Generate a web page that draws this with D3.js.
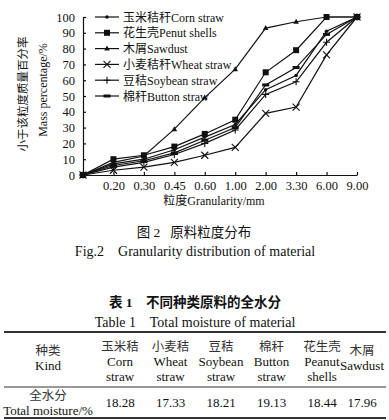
<!DOCTYPE html>
<html>
<head>
<meta charset="utf-8">
<script src="https://cdn.jsdelivr.net/npm/d3@7"></script>
<style>
  body { margin: 0; background: #fff; }
  svg { display: block; }
  text { font-family: "Liberation Serif", "Noto Sans CJK SC", serif; fill: #111; }
</style>
</head>
<body>
<svg width="389" height="420"></svg>
<script>
// 粒度分布 data
const categories = ["0", "0.20", "0.30", "0.45", "0.60", "1.00", "2.00", "3.30", "6.00", "9.00"];
const cornStraw    = [0, 7, 10, 16, 24, 32, 54, 63, 91, 100];
const peanutShells = [0, 10, 12.5, 18, 26, 35, 65, 79, 100, 100];
const sawdust      = [0, 8, 12, 29, 49, 67, 93, 97, 100, 100];
const wheatStraw   = [0, 3, 5, 8, 12.5, 17.5, 39, 43, 76, 100];
const soybeanStraw = [0, 5, 8, 13, 20, 28.5, 51, 59, 84, 100];
const buttonStraw  = [0, 6, 9, 14, 22, 30, 57, 68, 89, 100];
const yTicks = [0, 10, 20, 30, 40, 50, 60, 70, 80, 90, 100];

const seriesNames = ["玉米秸秆Corn straw", "花生壳Penut shells", "木屑Sawdust", "小麦秸秆Wheat straw", "豆秸Soybean straw", "棉秆Button straw"];
const seriesValues = [cornStraw, peanutShells, sawdust, wheatStraw, soybeanStraw, buttonStraw];
const seriesMarks = ["dot", "square", "triangle", "cross", "plus", "dash"];

// 表 1 data
const kindsCn = ["玉米秸", "小麦秸", "豆秸", "棉秆", "花生壳", "木屑"];
const kindsEn = [["Corn", "straw"], ["Wheat", "straw"], ["Soybean", "straw"], ["Button", "straw"], ["Peanut", "shells"], ["Sawdust"]];
const moisture = [18.28, 17.33, 18.21, 19.13, 18.44, 17.96];

const svg = d3.select("svg");

// 坐标轴
const x = d3.scalePoint().domain(categories).range([83, 357]);
const y = d3.scaleLinear().domain([0, 100]).range([175, 17]);

const g = svg.append("g");

// y 轴
const yAxis = g.append("g")
  .attr("transform", "translate(83,0)")
  .call(d3.axisLeft(y).tickValues(yTicks).tickSizeInner(-3).tickSizeOuter(-3).tickPadding(8));
yAxis.selectAll("text").style("font-size", "12.5px");

// x 轴
const xAxis = g.append("g")
  .attr("transform", "translate(0,175)")
  .call(d3.axisBottom(x).tickSizeInner(-3).tickSizeOuter(0).tickPadding(6));
xAxis.selectAll(".tick").filter(d => d === "0").remove();
xAxis.selectAll("text").style("font-size", "12.5px");
g.selectAll(".domain, .tick line").attr("stroke", "#111").attr("stroke-width", 1.2);

// 轴标题
svg.append("text")
  .attr("transform", "translate(27,94) rotate(-90)")
  .attr("text-anchor", "middle")
  .style("font-size", "11.5px")
  .text("小于该粒度质量百分率");
svg.append("text")
  .attr("transform", "translate(47,90) rotate(-90)")
  .attr("text-anchor", "middle")
  .style("font-size", "12px")
  .text("Mass percentage/%");
svg.append("text")
  .attr("x", 214).attr("y", 205)
  .attr("text-anchor", "middle")
  .style("font-size", "12px")
  .text("粒度Granularity/mm");

// 标记
function drawMark(sel, type, cx, cy) {
  if (type === "dot") {
    sel.append("circle").attr("cx", cx).attr("cy", cy).attr("r", 1.8).attr("fill", "#111");
  } else if (type === "square") {
    sel.append("rect").attr("x", cx - 3).attr("y", cy - 3).attr("width", 6).attr("height", 6).attr("fill", "#111");
  } else if (type === "triangle") {
    sel.append("path").attr("d", `M${cx},${cy - 3}L${cx + 2.8},${cy + 2}L${cx - 2.8},${cy + 2}Z`).attr("fill", "#111");
  } else if (type === "cross") {
    sel.append("path").attr("d", `M${cx - 3.5},${cy - 3.5}L${cx + 3.5},${cy + 3.5}M${cx - 3.5},${cy + 3.5}L${cx + 3.5},${cy - 3.5}`)
      .attr("stroke", "#111").attr("stroke-width", 1.1);
  } else if (type === "plus") {
    sel.append("path").attr("d", `M${cx - 3.5},${cy}L${cx + 3.5},${cy}M${cx},${cy - 3.5}L${cx},${cy + 3.5}`)
      .attr("stroke", "#111").attr("stroke-width", 1.1);
  } else if (type === "dash") {
    sel.append("rect").attr("x", cx - 3.5).attr("y", cy - 1.5).attr("width", 7).attr("height", 3).attr("fill", "#111");
  }
}

const line = d3.line().x((d, i) => x(categories[i])).y(d => y(d));

seriesValues.forEach((vals, k) => {
  const sg = svg.append("g");
  sg.append("path")
    .attr("d", line(vals))
    .attr("fill", "none")
    .attr("stroke", "#111")
    .attr("stroke-width", 1.2);
  vals.forEach((v, i) => drawMark(sg, seriesMarks[k], x(categories[i]), y(v)));
});

// 图例
const legendY = d3.scalePoint().domain(seriesNames).range([17, 96]);
seriesNames.forEach((name, k) => {
  const ly = legendY(name);
  const lg = svg.append("g");
  lg.append("line").attr("x1", 95).attr("x2", 119).attr("y1", ly).attr("y2", ly)
    .attr("stroke", "#111").attr("stroke-width", 1.2);
  drawMark(lg, seriesMarks[k], 107, ly);
  lg.append("text").attr("x", 123).attr("y", ly + 4.5)
    .style("font-size", "12px").text(name);
});

// 图题
svg.append("text").attr("x", 194).attr("y", 237)
  .attr("text-anchor", "middle").style("font-size", "13.5px")
  .attr("xml:space", "preserve")
  .text("图 2   原料粒度分布");
svg.append("text").attr("x", 195).attr("y", 256)
  .attr("text-anchor", "middle").style("font-size", "14px")
  .attr("xml:space", "preserve")
  .text("Fig.2    Granularity distribution of material");

// 表 1
svg.append("text").attr("x", 195).attr("y", 307)
  .attr("text-anchor", "middle").style("font-size", "13.5px").style("font-weight", "bold")
  .attr("xml:space", "preserve")
  .text("表 1    不同种类原料的全水分");
svg.append("text").attr("x", 195).attr("y", 327)
  .attr("text-anchor", "middle").style("font-size", "14px")
  .attr("xml:space", "preserve")
  .text("Table 1    Total moisture of material");

svg.append("line").attr("x1", 4).attr("x2", 386).attr("y1", 332).attr("y2", 332)
  .attr("stroke", "#333").attr("stroke-width", 1.8);
svg.append("line").attr("x1", 4).attr("x2", 386).attr("y1", 387).attr("y2", 387)
  .attr("stroke", "#333").attr("stroke-width", 1);
svg.append("line").attr("x1", 4).attr("x2", 386).attr("y1", 418).attr("y2", 418)
  .attr("stroke", "#333").attr("stroke-width", 1.8);

// 列位置: 前五列等距, 木屑列靠右
const colX = d3.scalePoint().domain(kindsCn.slice(0, 5)).range([120, 322]);
function colCenter(i) { return i === kindsCn.length - 1 ? 362 : colX(kindsCn[i]); }

svg.append("text").attr("x", 48).attr("y", 355).attr("text-anchor", "middle")
  .style("font-size", "12.5px").style("fill", "#333").text("种类");
svg.append("text").attr("x", 48).attr("y", 370).attr("text-anchor", "middle")
  .style("font-size", "13px").text("Kind");
svg.append("text").attr("x", 48).attr("y", 400).attr("text-anchor", "middle")
  .style("font-size", "12.5px").style("fill", "#333").text("全水分");
svg.append("text").attr("x", 48).attr("y", 415).attr("text-anchor", "middle")
  .style("font-size", "13px").text("Total moisture/%");

kindsCn.forEach((cn, i) => {
  const cx = colCenter(i);
  const en = kindsEn[i];
  const top = en.length === 1 ? 351 : 347;
  svg.append("text").attr("x", cx).attr("y", top + 4).attr("text-anchor", "middle")
    .style("font-size", "12.5px").style("fill", "#333").text(cn);
  en.forEach((w, j) => {
    svg.append("text").attr("x", cx).attr("y", top + 19 + j * 15).attr("text-anchor", "middle")
      .style("font-size", "13px").text(w);
  });
  svg.append("text").attr("x", cx).attr("y", 407).attr("text-anchor", "middle")
    .style("font-size", "13px").text(moisture[i].toFixed(2));
});
</script>
</body>
</html>
